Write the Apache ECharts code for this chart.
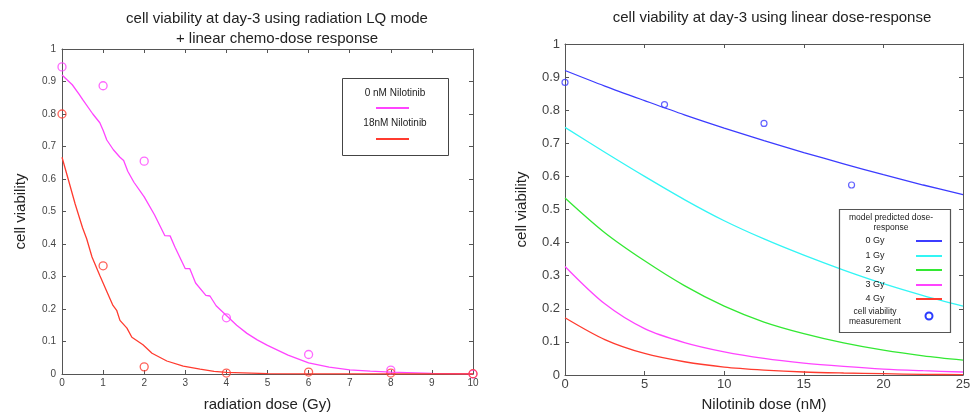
<!doctype html>
<html lang="en">
<head>
	<meta charset="UTF-8">
	<title>cell viability</title>
	<script type="text/javascript" src="https://cdn.jsdelivr.net/npm/echarts@6/dist/echarts.min.js"></script>
	<style>
		html, body { margin: 0; padding: 0; background: #fff; }
		#mychart { width: 977px; height: 417px; }
	</style>
</head>
<body>
	<div id="mychart"></div>
	<script type="text/javascript">
		// left panel: LQ model curves (Gy) and measurements
		var lqDose0 = [0, 0.25, 0.41, 0.5, 0.75, 0.92, 1.0, 1.09, 1.25, 1.41, 1.5, 1.6, 1.75, 2.0, 2.25, 2.5, 2.63, 2.75, 3.0, 3.11, 3.25, 3.5, 3.6, 3.75, 4.0, 4.25, 4.5, 4.75, 5.0, 5.5, 6.0, 6.5, 7.0, 7.5, 8.0, 9.0, 10.0];
		var lq0nM = [0.92, 0.89, 0.862, 0.845, 0.80, 0.773, 0.75, 0.72, 0.69, 0.667, 0.657, 0.624, 0.59, 0.545, 0.49, 0.426, 0.425, 0.39, 0.324, 0.324, 0.28, 0.242, 0.24, 0.21, 0.18, 0.15, 0.125, 0.105, 0.088, 0.058, 0.034, 0.021, 0.013, 0.009, 0.006, 0.002, 0.0005];
		var lqDose18 = [0, 0.15, 0.32, 0.5, 0.6, 0.73, 0.92, 1.09, 1.24, 1.33, 1.41, 1.58, 1.7, 1.97, 2.19, 2.55, 2.95, 3.36, 3.7, 4.0, 5.0, 6.0, 8.0, 10.0];
		var lq18nM = [0.667, 0.60, 0.523, 0.45, 0.416, 0.36, 0.303, 0.254, 0.211, 0.196, 0.165, 0.141, 0.113, 0.09, 0.064, 0.04, 0.024, 0.015, 0.008, 0.005, 0.001, 0.0003, 0.0001, 0];
		var measGy = [0, 1, 2, 4, 6, 8, 10];
		var meas0nM = [0.945, 0.887, 0.655, 0.173, 0.06, 0.012, 0.0];
		var meas18nM = [0.80, 0.333, 0.022, 0.003, 0.006, 0.003, 0.001];

		// right panel: linear dose-response (nM)
		var doseNM = [0, 2.5, 5, 7.5, 10, 12.5, 15, 17.5, 20, 22.5, 25];
		var fit0Gy = [0.920, 0.873, 0.829, 0.786, 0.746, 0.708, 0.672, 0.638, 0.605, 0.574, 0.545];
		var fit1Gy = [0.748, 0.673, 0.600, 0.530, 0.466, 0.411, 0.362, 0.317, 0.276, 0.240, 0.208];
		var fit2Gy = [0.535, 0.430, 0.345, 0.270, 0.208, 0.160, 0.125, 0.097, 0.075, 0.058, 0.045];
		var fit3Gy = [0.328, 0.215, 0.140, 0.098, 0.070, 0.050, 0.036, 0.026, 0.018, 0.013, 0.009];
		var fit4Gy = [0.173, 0.107, 0.065, 0.040, 0.024, 0.015, 0.009, 0.006, 0.004, 0.002, 0.001];
		var measNM = [0, 6.25, 12.5, 18];
		var measViab = [0.884, 0.817, 0.76, 0.574];

		var cMag = '#ff44ff', cRed = '#ff3b2f', cBlue = '#3c3cff', cCyan = '#33f5f5', cGreen = '#33e833';
		var FONT = 'Liberation Sans, Arial, sans-serif';

		function pairs(xs, ys) {
			return xs.map(function (x, i) { return [x, ys[i]]; });
		}

		var axisLine = { show: true, onZero: false, lineStyle: { color: '#555', width: 1 } };
		var axisTick = { show: true, inside: true, length: 4, lineStyle: { color: '#555' } };

		function boxAxis(gridIndex, pos, min, max, interval) {
			return {
				type: 'value', gridIndex: gridIndex, position: pos, min: min, max: max, interval: interval,
				axisLine: axisLine, axisTick: axisTick,
				axisLabel: { show: false }, splitLine: { show: false }
			};
		}

		var myChart = echarts.init(document.getElementById('mychart'));
		var option = {
			backgroundColor: '#fff',
			animation: false,
			textStyle: { fontFamily: FONT },
			title: [
				{ text: 'cell viability at day-3 using radiation LQ mode\n+ linear chemo-dose response', left: 272, top: 4, textAlign: 'center',
				  textStyle: { fontSize: 15, fontWeight: 'normal', color: '#222', lineHeight: 20, fontFamily: FONT } },
				{ text: 'cell viability at day-3 using linear dose-response', left: 767, top: 5, textAlign: 'center',
				  textStyle: { fontSize: 15, fontWeight: 'normal', color: '#222', fontFamily: FONT } }
			],
			grid: [
				{ left: 62, right: 504, top: 49, bottom: 41 },
				{ left: 565, right: 14, top: 44, bottom: 40 }
			],
			xAxis: [
				{ type: 'value', gridIndex: 0, position: 'bottom', min: 0, max: 10, interval: 1,
				  name: 'radiation dose (Gy)', nameLocation: 'middle', nameGap: 23,
				  nameTextStyle: { fontSize: 15, color: '#222', fontFamily: FONT },
				  axisLine: axisLine, axisTick: axisTick,
				  axisLabel: { fontSize: 10, color: '#444', margin: 4 }, splitLine: { show: false } },
				boxAxis(0, 'top', 0, 10, 1),
				{ type: 'value', gridIndex: 1, position: 'bottom', min: 0, max: 25, interval: 5,
				  name: 'Nilotinib dose (nM)', nameLocation: 'middle', nameGap: 22,
				  nameTextStyle: { fontSize: 15, color: '#222', fontFamily: FONT },
				  axisLine: axisLine, axisTick: axisTick,
				  axisLabel: { fontSize: 13, color: '#444', margin: 3 }, splitLine: { show: false } },
				boxAxis(1, 'top', 0, 25, 5)
			],
			yAxis: [
				{ type: 'value', gridIndex: 0, position: 'left', min: 0, max: 1, interval: 0.1,
				  name: 'cell viability', nameLocation: 'middle', nameGap: 34,
				  nameTextStyle: { fontSize: 15, color: '#222', fontFamily: FONT },
				  axisLine: axisLine, axisTick: axisTick,
				  axisLabel: { fontSize: 10, color: '#444', margin: 6 }, splitLine: { show: false } },
				boxAxis(0, 'right', 0, 1, 0.1),
				{ type: 'value', gridIndex: 1, position: 'left', min: 0, max: 1, interval: 0.1,
				  name: 'cell viability', nameLocation: 'middle', nameGap: 36,
				  nameTextStyle: { fontSize: 15, color: '#222', fontFamily: FONT },
				  axisLine: axisLine, axisTick: axisTick,
				  axisLabel: { fontSize: 13, color: '#444', margin: 5 }, splitLine: { show: false } },
				boxAxis(1, 'right', 0, 1, 0.1)
			],
			series: [
				{ name: '0 nM Nilotinib', type: 'line', xAxisIndex: 0, yAxisIndex: 0, data: pairs(lqDose0, lq0nM),
				  showSymbol: false, lineStyle: { color: cMag, width: 1.3 } },
				{ name: '18nM Nilotinib', type: 'line', xAxisIndex: 0, yAxisIndex: 0, data: pairs(lqDose18, lq18nM),
				  showSymbol: false, lineStyle: { color: cRed, width: 1.3 } },
				{ type: 'scatter', xAxisIndex: 0, yAxisIndex: 0, data: pairs(measGy, meas0nM), symbol: 'circle', symbolSize: 8,
				  itemStyle: { color: 'rgba(0,0,0,0)', borderColor: cMag, borderWidth: 1.3 } },
				{ type: 'scatter', xAxisIndex: 0, yAxisIndex: 0, data: pairs(measGy, meas18nM), symbol: 'circle', symbolSize: 8,
				  itemStyle: { color: 'rgba(0,0,0,0)', borderColor: cRed, borderWidth: 1.3 } },

				{ name: '0 Gy', type: 'line', xAxisIndex: 2, yAxisIndex: 2, data: pairs(doseNM, fit0Gy), smooth: 0.3,
				  showSymbol: false, lineStyle: { color: cBlue, width: 1.3 } },
				{ name: '1 Gy', type: 'line', xAxisIndex: 2, yAxisIndex: 2, data: pairs(doseNM, fit1Gy), smooth: 0.3,
				  showSymbol: false, lineStyle: { color: cCyan, width: 1.3 } },
				{ name: '2 Gy', type: 'line', xAxisIndex: 2, yAxisIndex: 2, data: pairs(doseNM, fit2Gy), smooth: 0.3,
				  showSymbol: false, lineStyle: { color: cGreen, width: 1.3 } },
				{ name: '3 Gy', type: 'line', xAxisIndex: 2, yAxisIndex: 2, data: pairs(doseNM, fit3Gy), smooth: 0.3,
				  showSymbol: false, lineStyle: { color: cMag, width: 1.3 } },
				{ name: '4 Gy', type: 'line', xAxisIndex: 2, yAxisIndex: 2, data: pairs(doseNM, fit4Gy), smooth: 0.3,
				  showSymbol: false, lineStyle: { color: cRed, width: 1.3 } },
				{ name: 'cell viability measurement', type: 'scatter', xAxisIndex: 2, yAxisIndex: 2, data: pairs(measNM, measViab),
				  symbol: 'circle', symbolSize: 6, itemStyle: { color: 'rgba(0,0,0,0)', borderColor: cBlue, borderWidth: 1.2 } }
			],
			graphic: [
				// left legend box
				{ type: 'rect', shape: { x: 342.5, y: 78.5, width: 106, height: 77 }, style: { fill: '#fff', stroke: '#444', lineWidth: 1 }, z: 10 },
				{ type: 'text', x: 395, y: 93, style: { text: '0 nM Nilotinib', font: '10px ' + FONT, fill: '#222', align: 'center', verticalAlign: 'middle' }, z: 11 },
				{ type: 'line', shape: { x1: 376, y1: 108, x2: 409, y2: 108 }, style: { stroke: cMag, lineWidth: 2 }, z: 11 },
				{ type: 'text', x: 395, y: 123, style: { text: '18nM Nilotinib', font: '10px ' + FONT, fill: '#222', align: 'center', verticalAlign: 'middle' }, z: 11 },
				{ type: 'line', shape: { x1: 376, y1: 139, x2: 409, y2: 139 }, style: { stroke: cRed, lineWidth: 2 }, z: 11 },

				// right legend box
				{ type: 'rect', shape: { x: 839.5, y: 209.5, width: 111, height: 123 }, style: { fill: 'rgba(255,255,255,0)', stroke: '#555', lineWidth: 1.2 }, z: 10 },
				{ type: 'text', x: 891, y: 223, style: { text: 'model predicted dose-\nresponse', font: '8.5px ' + FONT, fill: '#222', align: 'center', verticalAlign: 'middle', lineHeight: 10 }, z: 11 },
				{ type: 'text', x: 875, y: 241, style: { text: '0 Gy', font: '9px ' + FONT, fill: '#222', align: 'center', verticalAlign: 'middle' }, z: 11 },
				{ type: 'line', shape: { x1: 916, y1: 241, x2: 942, y2: 241 }, style: { stroke: cBlue, lineWidth: 2 }, z: 11 },
				{ type: 'text', x: 875, y: 256, style: { text: '1 Gy', font: '9px ' + FONT, fill: '#222', align: 'center', verticalAlign: 'middle' }, z: 11 },
				{ type: 'line', shape: { x1: 916, y1: 256, x2: 942, y2: 256 }, style: { stroke: cCyan, lineWidth: 2 }, z: 11 },
				{ type: 'text', x: 875, y: 270, style: { text: '2 Gy', font: '9px ' + FONT, fill: '#222', align: 'center', verticalAlign: 'middle' }, z: 11 },
				{ type: 'line', shape: { x1: 916, y1: 270, x2: 942, y2: 270 }, style: { stroke: cGreen, lineWidth: 2 }, z: 11 },
				{ type: 'text', x: 875, y: 285, style: { text: '3 Gy', font: '9px ' + FONT, fill: '#222', align: 'center', verticalAlign: 'middle' }, z: 11 },
				{ type: 'line', shape: { x1: 916, y1: 285, x2: 942, y2: 285 }, style: { stroke: cMag, lineWidth: 2 }, z: 11 },
				{ type: 'text', x: 875, y: 299, style: { text: '4 Gy', font: '9px ' + FONT, fill: '#222', align: 'center', verticalAlign: 'middle' }, z: 11 },
				{ type: 'line', shape: { x1: 916, y1: 299, x2: 942, y2: 299 }, style: { stroke: cRed, lineWidth: 2 }, z: 11 },
				{ type: 'text', x: 875, y: 317, style: { text: 'cell viability\nmeasurement', font: '8.5px ' + FONT, fill: '#222', align: 'center', verticalAlign: 'middle', lineHeight: 10 }, z: 11 },
				{ type: 'circle', shape: { cx: 929, cy: 316, r: 3.5 }, style: { fill: 'none', stroke: '#2a3cff', lineWidth: 2 }, z: 11 }
			]
		};
		myChart.setOption(option);
	</script>
</body>
</html>
